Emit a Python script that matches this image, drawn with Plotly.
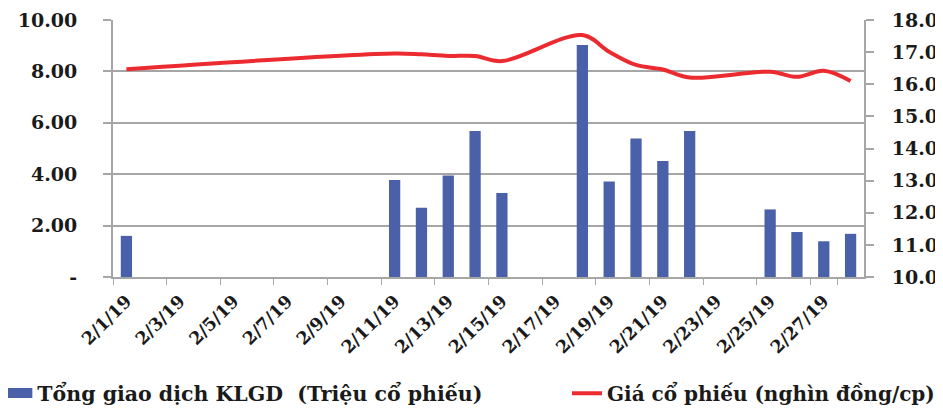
import plotly.graph_objects as go

dates = [f"2/{d}/19" for d in range(1, 29)]
volume = [1.60, None, None, None, None, None, None, None, None, None,
          3.77, 2.69, 3.95, 5.68, 3.27, None, None, 9.03, 3.72, 5.39,
          4.51, 5.68, None, None, 2.63, 1.75, 1.39, 1.68]
price = [16.47, None, None, None, None, None, None, None, None, None,
         16.96, 16.93, 16.88, 16.88, 16.72, None, None, 17.53, 17.01, 16.60,
         16.46, 16.21, None, None, 16.39, 16.23, 16.42, 16.10]
left_ticks = [0, 2, 4, 6, 8, 10]
left_labels = ["-", "2.00", "4.00", "6.00", "8.00", "10.00"]
right_ticks = [10, 11, 12, 13, 14, 15, 16, 17, 18]
right_labels = ["10.0", "11.0", "12.0", "13.0", "14.0", "15.0", "16.0", "17.0", "18.0"]
xlabels = dates[::2]
vol_name = "Tổng giao dịch KLGD  (Triệu cổ phiếu)"
price_name = "Giá cổ phiếu (nghìn đồng/cp)"

FONT = "DejaVu Serif"
GRID = "#a6a6a6"
BLUE = "#4a60a8"
RED = "#ec2b30"

fig = go.Figure()
fig.add_trace(go.Bar(x=dates, y=volume, name=vol_name, legendgroup="vol", showlegend=False,
                     marker=dict(color=BLUE, line=dict(width=0)), yaxis="y"))
# legend key for the volume series (wide rectangle like the original)
fig.add_trace(go.Scatter(x=[None], y=[None], name=vol_name, legendgroup="vol",
                         mode="lines", line=dict(color=BLUE, width=12), legend="legend"))
fig.add_trace(go.Scatter(x=dates, y=price, name=price_name, legend="legend2",
                         mode="lines", connectgaps=True,
                         line=dict(color=RED, width=4, shape="spline", smoothing=1),
                         yaxis="y2"))

legend_common = dict(orientation="h", yanchor="middle", y=-0.452, xanchor="left",
                     bgcolor="rgba(0,0,0,0)")

fig.update_layout(
    width=935, height=404,
    margin=dict(l=105, r=79, t=12, b=135, autoexpand=False),
    paper_bgcolor="white", plot_bgcolor="white",
    bargap=0.58,
    font=dict(family=FONT, color="#1a1a1a", weight="bold"),
    showlegend=True,
    legend=dict(x=-0.154, font=dict(size=20.5, family=FONT, weight="bold"), **legend_common),
    legend2=dict(x=0.6045, font=dict(size=20, family=FONT, weight="bold"), **legend_common),
    xaxis=dict(type="category", categoryorder="array", categoryarray=dates,
               tickmode="array", tickvals=xlabels, ticktext=xlabels,
               tickangle=-45, tickson="boundaries", ticks="outside", ticklen=6,
               tickcolor=GRID, showline=True, linecolor=GRID, linewidth=2,
               showgrid=False, automargin=False, ticklabelstandoff=5,
               tickfont=dict(size=17.5, family=FONT, weight="bold"),
               range=[-0.5, 27.5]),
    yaxis=dict(range=[0, 10], tickmode="array", tickvals=left_ticks, ticktext=left_labels,
               showgrid=True, gridcolor=GRID, gridwidth=2, zeroline=False,
               showline=True, linecolor=GRID, linewidth=2, automargin=False,
               ticks="outside", ticklen=8, tickcolor=GRID, tickwidth=2,
               ticklabelstandoff=22,
               tickfont=dict(size=19, family=FONT, weight="bold")),
    yaxis2=dict(range=[10, 18], overlaying="y", side="right",
                tickmode="array", tickvals=right_ticks, ticktext=right_labels,
                showgrid=False, zeroline=False, showline=True, linecolor=GRID, linewidth=2,
                ticks="outside", ticklen=8, tickcolor=GRID, tickwidth=2,
                ticklabelstandoff=14, automargin=False,
                tickfont=dict(size=19, family=FONT, weight="bold")),
)

fig.write_html("out.html")
